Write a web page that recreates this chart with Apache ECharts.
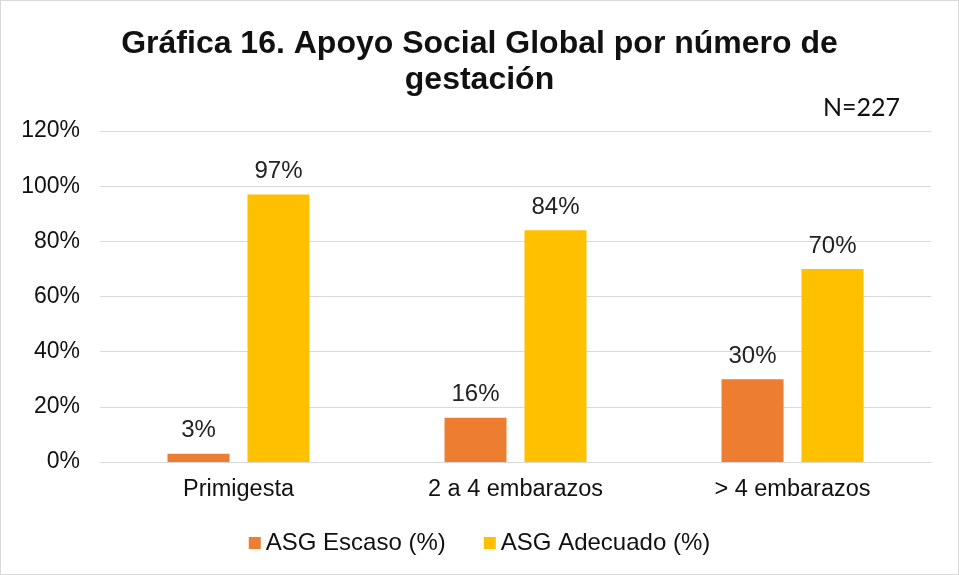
<!DOCTYPE html>
<html>
<head>
<meta charset="utf-8">
<script src="https://cdn.jsdelivr.net/npm/echarts@6/dist/echarts.min.js"></script>
<style>
  html, body { margin: 0; padding: 0; background: #fff; }
  #chart { width: 959px; height: 575px; box-sizing: border-box; border: 1px solid #d9d9d9; }
</style>
</head>
<body>
<div id="chart"></div>
<script>
const categories = ['Primigesta', '2 a 4 embarazos', '> 4 embarazos']
const escaso = [3, 16, 30]
const adecuado = [97, 84, 70]
const seriesNames = ['ASG Escaso (%)', 'ASG Adecuado (%)']
const colors = ['#ED7D31', '#FFC000']

const chart = echarts.init(document.getElementById('chart'))

const labelStyle = {
  show: true,
  position: 'top',
  distance: 11,
  formatter: p => p.value + '%',
  fontFamily: 'Liberation Sans',
  fontSize: 24,
  color: '#222'
}

chart.setOption({
  animation: false,
  color: colors,
  title: [
    {
      text: 'Gráfica 16. Apoyo Social Global por número de\ngestación',
      left: 'center',
      top: 20,
      textStyle: {
        fontFamily: 'Liberation Sans',
        fontWeight: 'bold',
        fontSize: 32,
        lineHeight: 36,
        color: '#111'
      }
    },
    {
      text: 'N=227',
      left: 817,
      top: 89,
      textStyle: { fontFamily: 'Lato', fontWeight: 'normal', fontSize: 25, color: '#111' }
    }
  ],
  grid: { left: 99, right: 27, top: 130, bottom: 112 },
  legend: {
    bottom: 14,
    left: 'center',
    icon: 'rect',
    itemWidth: 12,
    itemHeight: 12,
    itemGap: 38,
    textStyle: { fontFamily: 'Liberation Sans', fontSize: 24, color: '#111' },
    data: seriesNames
  },
  xAxis: {
    type: 'category',
    data: categories,
    axisLine: { lineStyle: { color: '#d9d9d9', width: 1 } },
    axisTick: { show: false },
    axisLabel: { fontFamily: 'Liberation Sans', fontSize: 23.5, color: '#111', margin: 16 }
  },
  yAxis: {
    type: 'value',
    min: 0,
    max: 120,
    interval: 20,
    axisLine: { show: false },
    axisTick: { show: false },
    axisLabel: {
      formatter: '{value}%',
      fontFamily: 'Liberation Sans',
      fontSize: 23,
      color: '#111',
      margin: 20
    },
    splitLine: { lineStyle: { color: '#d9d9d9', width: 1 } }
  },
  series: [
    {
      name: seriesNames[0],
      type: 'bar',
      data: escaso,
      barWidth: 62,
      barGap: '29%',
      label: labelStyle
    },
    {
      name: seriesNames[1],
      type: 'bar',
      data: adecuado,
      barWidth: 62,
      barGap: '29%',
      label: labelStyle
    }
  ]
})
</script>
</body>
</html>
